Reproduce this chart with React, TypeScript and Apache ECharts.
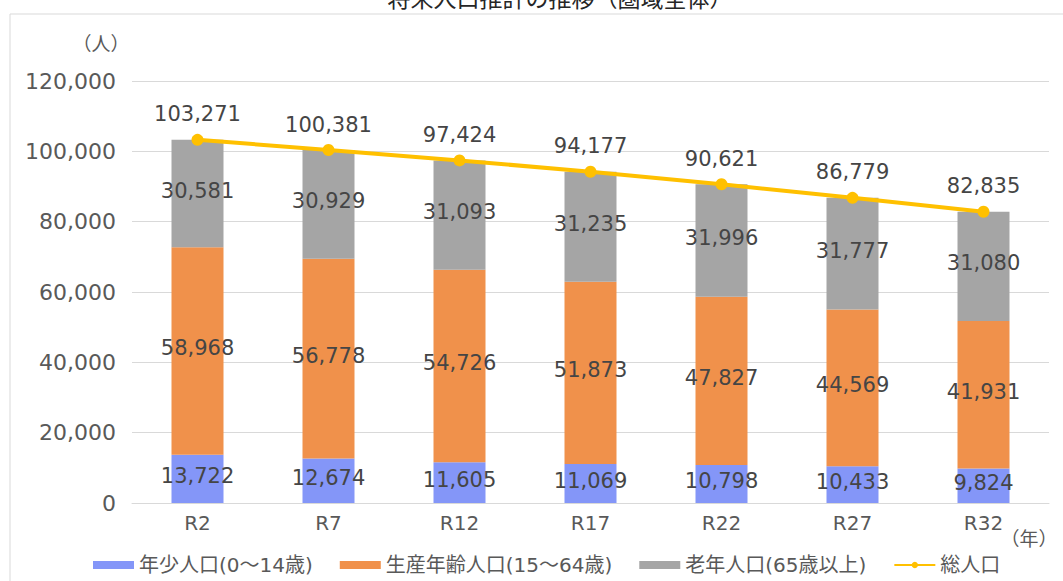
import React, { useEffect, useRef } from "react";
import * as echarts from "echarts";

const categories = ["R2", "R7", "R12", "R17", "R22", "R27", "R32"];
const youth = [13722, 12674, 11605, 11069, 10798, 10433, 9824];
const working = [58968, 56778, 54726, 51873, 47827, 44569, 41931];
const elderly = [30581, 30929, 31093, 31235, 31996, 31777, 31080];
const total = [103271, 100381, 97424, 94177, 90621, 86779, 82835];
const yTicks = [0, 20000, 40000, 60000, 80000, 100000, 120000];

const CJK = "'Noto Sans CJK JP', 'Noto Sans', sans-serif";
const NUM = "'DejaVu Sans', 'Noto Sans CJK JP', sans-serif";
const fmt = (v: number) => v.toLocaleString("en-US");

export default function App() {
  const ref = useRef<HTMLDivElement>(null);
  useEffect(() => {
    const chart = echarts.init(ref.current!, undefined, { renderer: "svg" });
    const segLabel = {
      show: true,
      position: "inside",
      color: "#454545",
      fontSize: 21,
      fontFamily: NUM,
      offset: [0, -3],
      formatter: (p: any) => fmt(p.value),
    };
    chart.setOption({
      animation: false,
      textStyle: { fontFamily: NUM },
      graphic: [
        {
          type: "rect",
          shape: { x: 10, y: 14, width: 1100, height: 620 },
          style: { fill: "none", stroke: "#d9d9d9", lineWidth: 1 },
          silent: true,
        },
        {
          type: "text",
          x: 560,
          y: -15,
          style: {
            text: "将来人口推計の推移（圏域全体）",
            fontSize: 23,
            fontFamily: CJK,
            fill: "#262626",
            textAlign: "center",
          },
        },
        {
          type: "text",
          x: 101,
          y: 42,
          style: {
            text: "（人）",
            fontSize: 19,
            fontFamily: CJK,
            fill: "#595959",
            textAlign: "center",
            textVerticalAlign: "middle",
          },
        },
        {
          type: "text",
          x: 1029,
          y: 537,
          style: {
            text: "（年）",
            fontSize: 19,
            fontFamily: CJK,
            fill: "#595959",
            textAlign: "center",
            textVerticalAlign: "middle",
          },
        },
      ],
      grid: { left: 132, right: 14, top: 81, bottom: 78, containLabel: false },
      legend: {
        bottom: 1,
        left: 88,
        itemGap: 27,
        itemWidth: 41,
        itemHeight: 8,
        textStyle: { color: "#595959", fontSize: 20, fontFamily: NUM },
        data: [
          { name: "年少人口(0～14歳)", icon: "rect" },
          { name: "生産年齢人口(15～64歳)", icon: "rect" },
          { name: "老年人口(65歳以上)", icon: "rect" },
          { name: "総人口" },
        ],
      },
      xAxis: {
        type: "category",
        data: categories,
        axisLine: { lineStyle: { color: "#d9d9d9" } },
        axisTick: { show: false },
        axisLabel: { color: "#595959", fontSize: 20, fontFamily: NUM, margin: 10 },
      },
      yAxis: {
        type: "value",
        min: 0,
        max: 120000,
        interval: 20000,
        axisLine: { show: false },
        axisTick: { show: false },
        splitLine: { lineStyle: { color: "#d9d9d9" } },
        axisLabel: {
          color: "#595959",
          fontSize: 22,
          fontFamily: NUM,
          margin: 16,
          formatter: (v: number) => (yTicks.includes(v) ? fmt(v) : ""),
        },
      },
      series: [
        {
          name: "年少人口(0～14歳)",
          type: "bar",
          stack: "pop",
          barWidth: 52,
          data: youth,
          itemStyle: { color: "#8496F8" },
          label: segLabel,
        },
        {
          name: "生産年齢人口(15～64歳)",
          type: "bar",
          stack: "pop",
          data: working,
          itemStyle: { color: "#F0914B" },
          label: segLabel,
        },
        {
          name: "老年人口(65歳以上)",
          type: "bar",
          stack: "pop",
          data: elderly,
          itemStyle: { color: "#A5A5A5" },
          label: segLabel,
        },
        {
          name: "総人口",
          type: "line",
          data: total,
          symbol: "circle",
          symbolSize: 12,
          lineStyle: { color: "#FFC000", width: 4 },
          itemStyle: { color: "#FFC000" },
          label: {
            show: true,
            position: "top",
            distance: 9,
            color: "#454545",
            fontSize: 21,
            fontFamily: NUM,
            formatter: (p: any) => fmt(p.value),
          },
          z: 5,
        },
      ],
    });
    return () => chart.dispose();
  }, []);
  return (
    <div
      ref={ref}
      style={{ position: "absolute", left: 0, top: 0, width: 1063, height: 581, background: "#fff" }}
    />
  );
}
